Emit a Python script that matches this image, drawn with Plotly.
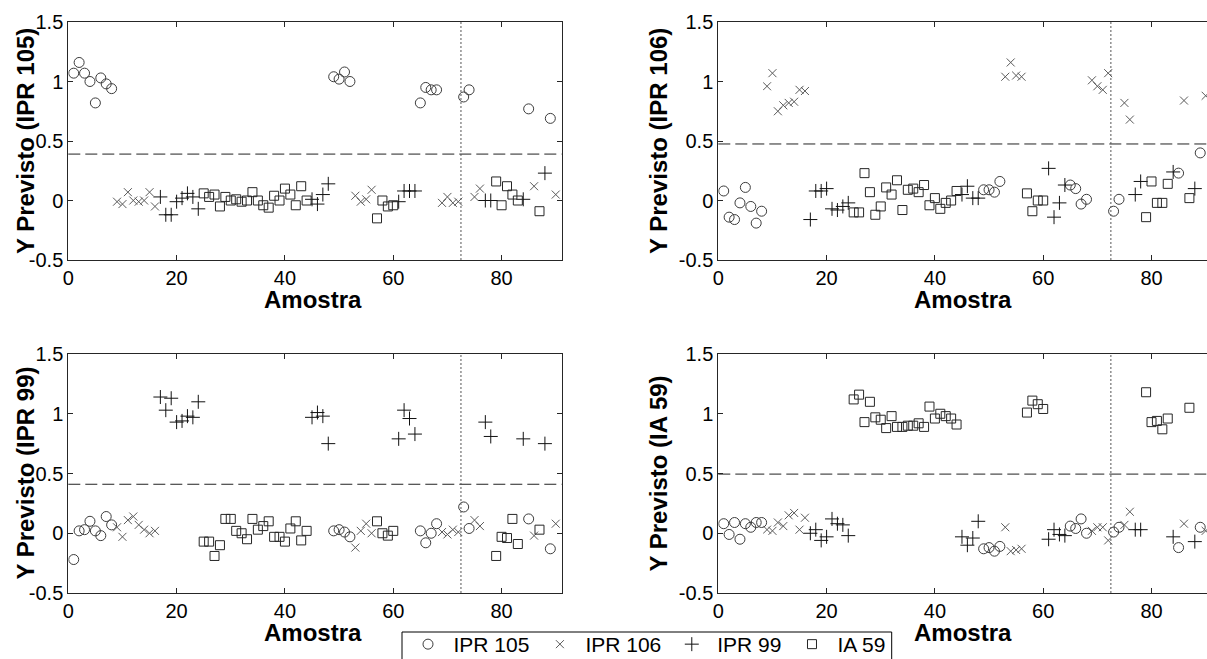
import plotly.graph_objects as go

W, H = 1207, 659
FONT = "Liberation Sans, Arial, sans-serif"

# ---- data -------------------------------------------------------------
amostra = list(range(1, 91))

# runs of consecutive samples belonging to each cultivar
blocos_classe = [
    ("IPR 105", 8), ("IPR 106", 8), ("IPR 99", 8), ("IA 59", 20),
    ("IPR 99", 4), ("IPR 105", 4), ("IPR 106", 4), ("IA 59", 4),
    ("IPR 99", 4), ("IPR 105", 4), ("IPR 106", 4),
    ("IPR 105", 2), ("IPR 106", 2), ("IPR 99", 2), ("IA 59", 5),
    ("IPR 99", 1), ("IPR 105", 1), ("IPR 106", 1), ("IA 59", 1),
    ("IPR 99", 1), ("IPR 105", 1), ("IPR 106", 1),
]

y_ipr105 = [1.07, 1.16, 1.07, 1.00, 0.82, 1.03, 0.98, 0.94,
            -0.01, -0.03, 0.07, 0.00, -0.01, 0.00, 0.07, -0.05,
            0.03, -0.12, -0.12, -0.01, 0.02, 0.06, 0.03, -0.07,
            0.06, 0.03, 0.05, -0.05, 0.03, 0.00, 0.01, -0.01, 0.00, 0.07,
            0.00, -0.04, -0.06, 0.04, 0.00, 0.10, 0.05, -0.04, 0.12, 0.00,
            0.01, -0.03, 0.05, 0.14,
            1.04, 1.02, 1.08, 1.00,
            0.04, -0.01, 0.01, 0.09,
            -0.15, 0.00, -0.05, -0.04,
            -0.01, 0.08, 0.08, 0.08,
            0.82, 0.95, 0.93, 0.93,
            -0.02, 0.03, -0.02, -0.01,
            0.87, 0.93, 0.03, 0.10, 0.00, 0.00,
            0.16, -0.04, 0.12, 0.05, 0.00,
            0.01, 0.77, 0.12, -0.09, 0.23, 0.69, 0.05]

y_ipr106 = [0.08, -0.14, -0.16, -0.02, 0.11, -0.05, -0.19, -0.09,
            0.96, 1.07, 0.75, 0.80, 0.82, 0.83, 0.93, 0.92,
            -0.16, 0.08, 0.08, 0.10, -0.07, -0.08, -0.05, -0.02,
            -0.10, -0.10, 0.23, 0.07, -0.12, -0.05, 0.11, 0.05, 0.17, -0.08,
            0.09, 0.10, 0.07, 0.13, -0.04, 0.02, -0.07, -0.02, 0.00, 0.08,
            0.05, 0.12, 0.02, 0.02,
            0.09, 0.09, 0.07, 0.16,
            1.04, 1.16, 1.05, 1.04,
            0.06, -0.09, 0.00, 0.00,
            0.27, -0.14, -0.02, 0.13,
            0.13, 0.10, -0.03, 0.01,
            1.01, 0.96, 0.93, 1.07,
            -0.09, 0.01, 0.82, 0.68, 0.05, 0.16,
            -0.14, 0.16, -0.02, -0.02, 0.14,
            0.24, 0.23, 0.84, 0.02, 0.10, 0.40, 0.88]

y_ipr99 = [-0.22, 0.02, 0.03, 0.10, 0.02, -0.02, 0.14, 0.07,
           0.05, -0.03, 0.11, 0.14, 0.07, 0.03, 0.00, 0.02,
           1.14, 1.03, 1.13, 0.93, 0.94, 0.98, 0.97, 1.10,
           -0.07, -0.07, -0.19, -0.10, 0.12, 0.12, 0.02, 0.00, -0.05, 0.12,
           0.03, 0.06, 0.10, -0.03, -0.03, -0.07, 0.04, 0.10, -0.06, 0.02,
           0.97, 1.01, 0.98, 0.75,
           0.02, 0.03, 0.01, -0.03,
           -0.12, 0.02, 0.08, 0.00,
           0.10, 0.00, -0.02, 0.02,
           0.79, 1.03, 0.96, 0.83,
           0.02, -0.08, 0.00, 0.08,
           0.01, -0.01, 0.03, 0.01,
           0.22, 0.04, 0.11, 0.06, 0.93, 0.81,
           -0.19, -0.03, -0.04, 0.12, -0.09,
           0.79, 0.12, -0.02, 0.03, 0.75, -0.13, 0.08]

y_ia59 = [0.08, -0.01, 0.09, -0.05, 0.08, 0.05, 0.09, 0.09,
          0.03, 0.02, 0.09, 0.06, 0.15, 0.17, 0.03, 0.13,
          0.00, 0.03, -0.06, -0.03, 0.12, 0.08, 0.07, -0.02,
          1.12, 1.16, 0.93, 1.10, 0.97, 0.95, 0.88, 0.98, 0.89, 0.89,
          0.90, 0.90, 0.92, 0.89, 1.06, 0.96, 1.00, 0.98, 0.96, 0.91,
          -0.03, -0.10, -0.04, 0.10,
          -0.13, -0.12, -0.15, -0.11,
          0.05, -0.15, -0.14, -0.13,
          1.01, 1.11, 1.08, 1.04,
          -0.05, 0.03, -0.01, -0.02,
          0.06, 0.04, 0.12, 0.00,
          0.02, 0.05, 0.05, -0.06,
          0.01, 0.05, 0.07, 0.18, 0.03, 0.03,
          1.18, 0.93, 0.94, 0.87, 0.96,
          -0.03, -0.12, 0.08, 1.05, -0.07, 0.05, 0.02]

titulos_y = ["Y Previsto (IPR 105)", "Y Previsto (IPR 106)",
             "Y Previsto (IPR 99)", "Y Previsto (IA 59)"]
limiares = [0.39, 0.475, 0.41, 0.495]
fim_calibracao = 72.5

ticks_x = [0, 20, 40, 60, 80]
ticks_y = [-0.5, 0, 0.5, 1, 1.5]
rotulos_y = ["-0.5", "0", "0.5", "1", "1.5"]

# ---- styling -----------------------------------------------------------
classes = ["IPR 105", "IPR 106", "IPR 99", "IA 59"]
marcadores = {
    "IPR 105": dict(symbol="circle-open", size=10, color="#3c3c3c"),
    "IPR 106": dict(symbol="x-thin-open", size=8, color="#5a5a5a"),
    "IPR 99": dict(symbol="cross-thin-open", size=10, color="#111111"),
    "IA 59": dict(symbol="square-open", size=9, color="#262626"),
}

classe = []
for nome, n in blocos_classe:
    classe += [nome] * n

# panel geometry in pixels: (left, right, top, bottom)
paineis = [
    dict(y=y_ipr105, box=(68.3, 561.7, 22, 260), xmax=91.1, right=False),
    dict(y=y_ipr106, box=(718.3, 1207, 22, 260), xmax=90.25, right=True),
    dict(y=y_ipr99, box=(68.3, 561.7, 354, 593), xmax=91.1, right=False),
    dict(y=y_ia59, box=(718.3, 1207, 354, 593), xmax=90.25, right=True),
]

fig = go.Figure()
layout = dict(
    width=W, height=H,
    margin=dict(l=0, r=0, t=0, b=0, autoexpand=False),
    paper_bgcolor="white", plot_bgcolor="white",
    font=dict(family=FONT, color="#000000"),
    showlegend=True,
    legend=dict(orientation="h", x=402.5 / W, xanchor="left",
                y=(H - 624) / H, yanchor="top",
                borderwidth=0, bgcolor="rgba(0,0,0,0)",
                font=dict(family=FONT, size=21, color="#000000"),
                itemwidth=41, tracegroupgap=0),
)
# frame around the legend, running off the bottom of the page
shapes = [dict(type="rect", xref="paper", yref="paper",
               x0=402 / W, x1=891.7 / W, y0=(H - 632) / H, y1=-0.08,
               line=dict(color="#000000", width=1))]
annotations = []

for i, p in enumerate(paineis):
    k = "" if i == 0 else str(i + 1)
    xa, ya = "x" + k, "y" + k
    l, r, t, b = p["box"]
    for c in classes:
        xs = [a for a, cl in zip(amostra, classe) if cl == c]
        ys = [v for v, cl in zip(p["y"], classe) if cl == c]
        m = marcadores[c]
        fig.add_trace(go.Scatter(
            x=xs, y=ys, mode="markers", name=c, xaxis=xa, yaxis=ya,
            legendgroup=c, showlegend=(i == 0),
            marker=dict(symbol=m["symbol"], size=m["size"], color=m["color"],
                        line=dict(color=m["color"], width=1)),
        ))
    eixo_comum = dict(showgrid=False, zeroline=False, showline=True,
                      linecolor="#262626", linewidth=1, ticks="inside",
                      ticklen=5, tickwidth=1, tickcolor="#262626",
                      tickfont=dict(family=FONT, size=20, color="#000000"))
    layout["xaxis" + k] = dict(
        eixo_comum, domain=[l / W, r / W], range=[0, p["xmax"]],
        tickvals=ticks_x, mirror="ticks", anchor=ya)
    layout["yaxis" + k] = dict(
        eixo_comum, domain=[(H - b) / H, (H - t) / H], range=[-0.5, 1.5],
        tickvals=ticks_y, ticktext=rotulos_y,
        mirror=False if p["right"] else "ticks", anchor=xa)

    # decision threshold and end of calibration set
    shapes.append(dict(type="line", xref=xa + " domain", yref=ya,
                       x0=0, x1=1, y0=limiares[i], y1=limiares[i],
                       line=dict(color="#222222", width=1, dash="12px,5px")))
    shapes.append(dict(type="line", xref=xa, yref=ya + " domain",
                       x0=fim_calibracao, x1=fim_calibracao, y0=0, y1=1,
                       line=dict(color="#555555", width=1, dash="2px,2px")))

    cx = 313 if not p["right"] else 962.5
    annotations.append(dict(text="<b>Amostra</b>", xref="paper", yref="paper",
                            x=cx / W, y=(H - (b + 39)) / H,
                            xanchor="center", yanchor="middle", showarrow=False,
                            font=dict(family=FONT, size=24, color="#000000")))
    ty = 25 if not p["right"] else 658
    annotations.append(dict(text="<b>" + titulos_y[i] + "</b>", xref="paper",
                            yref="paper", x=ty / W, y=(H - (t + b) / 2) / H,
                            xanchor="center", yanchor="middle", textangle=-90,
                            showarrow=False,
                            font=dict(family=FONT, size=24, color="#000000")))

layout["shapes"] = shapes
layout["annotations"] = annotations
fig.update_layout(**layout)
fig.write_html("out.html")
